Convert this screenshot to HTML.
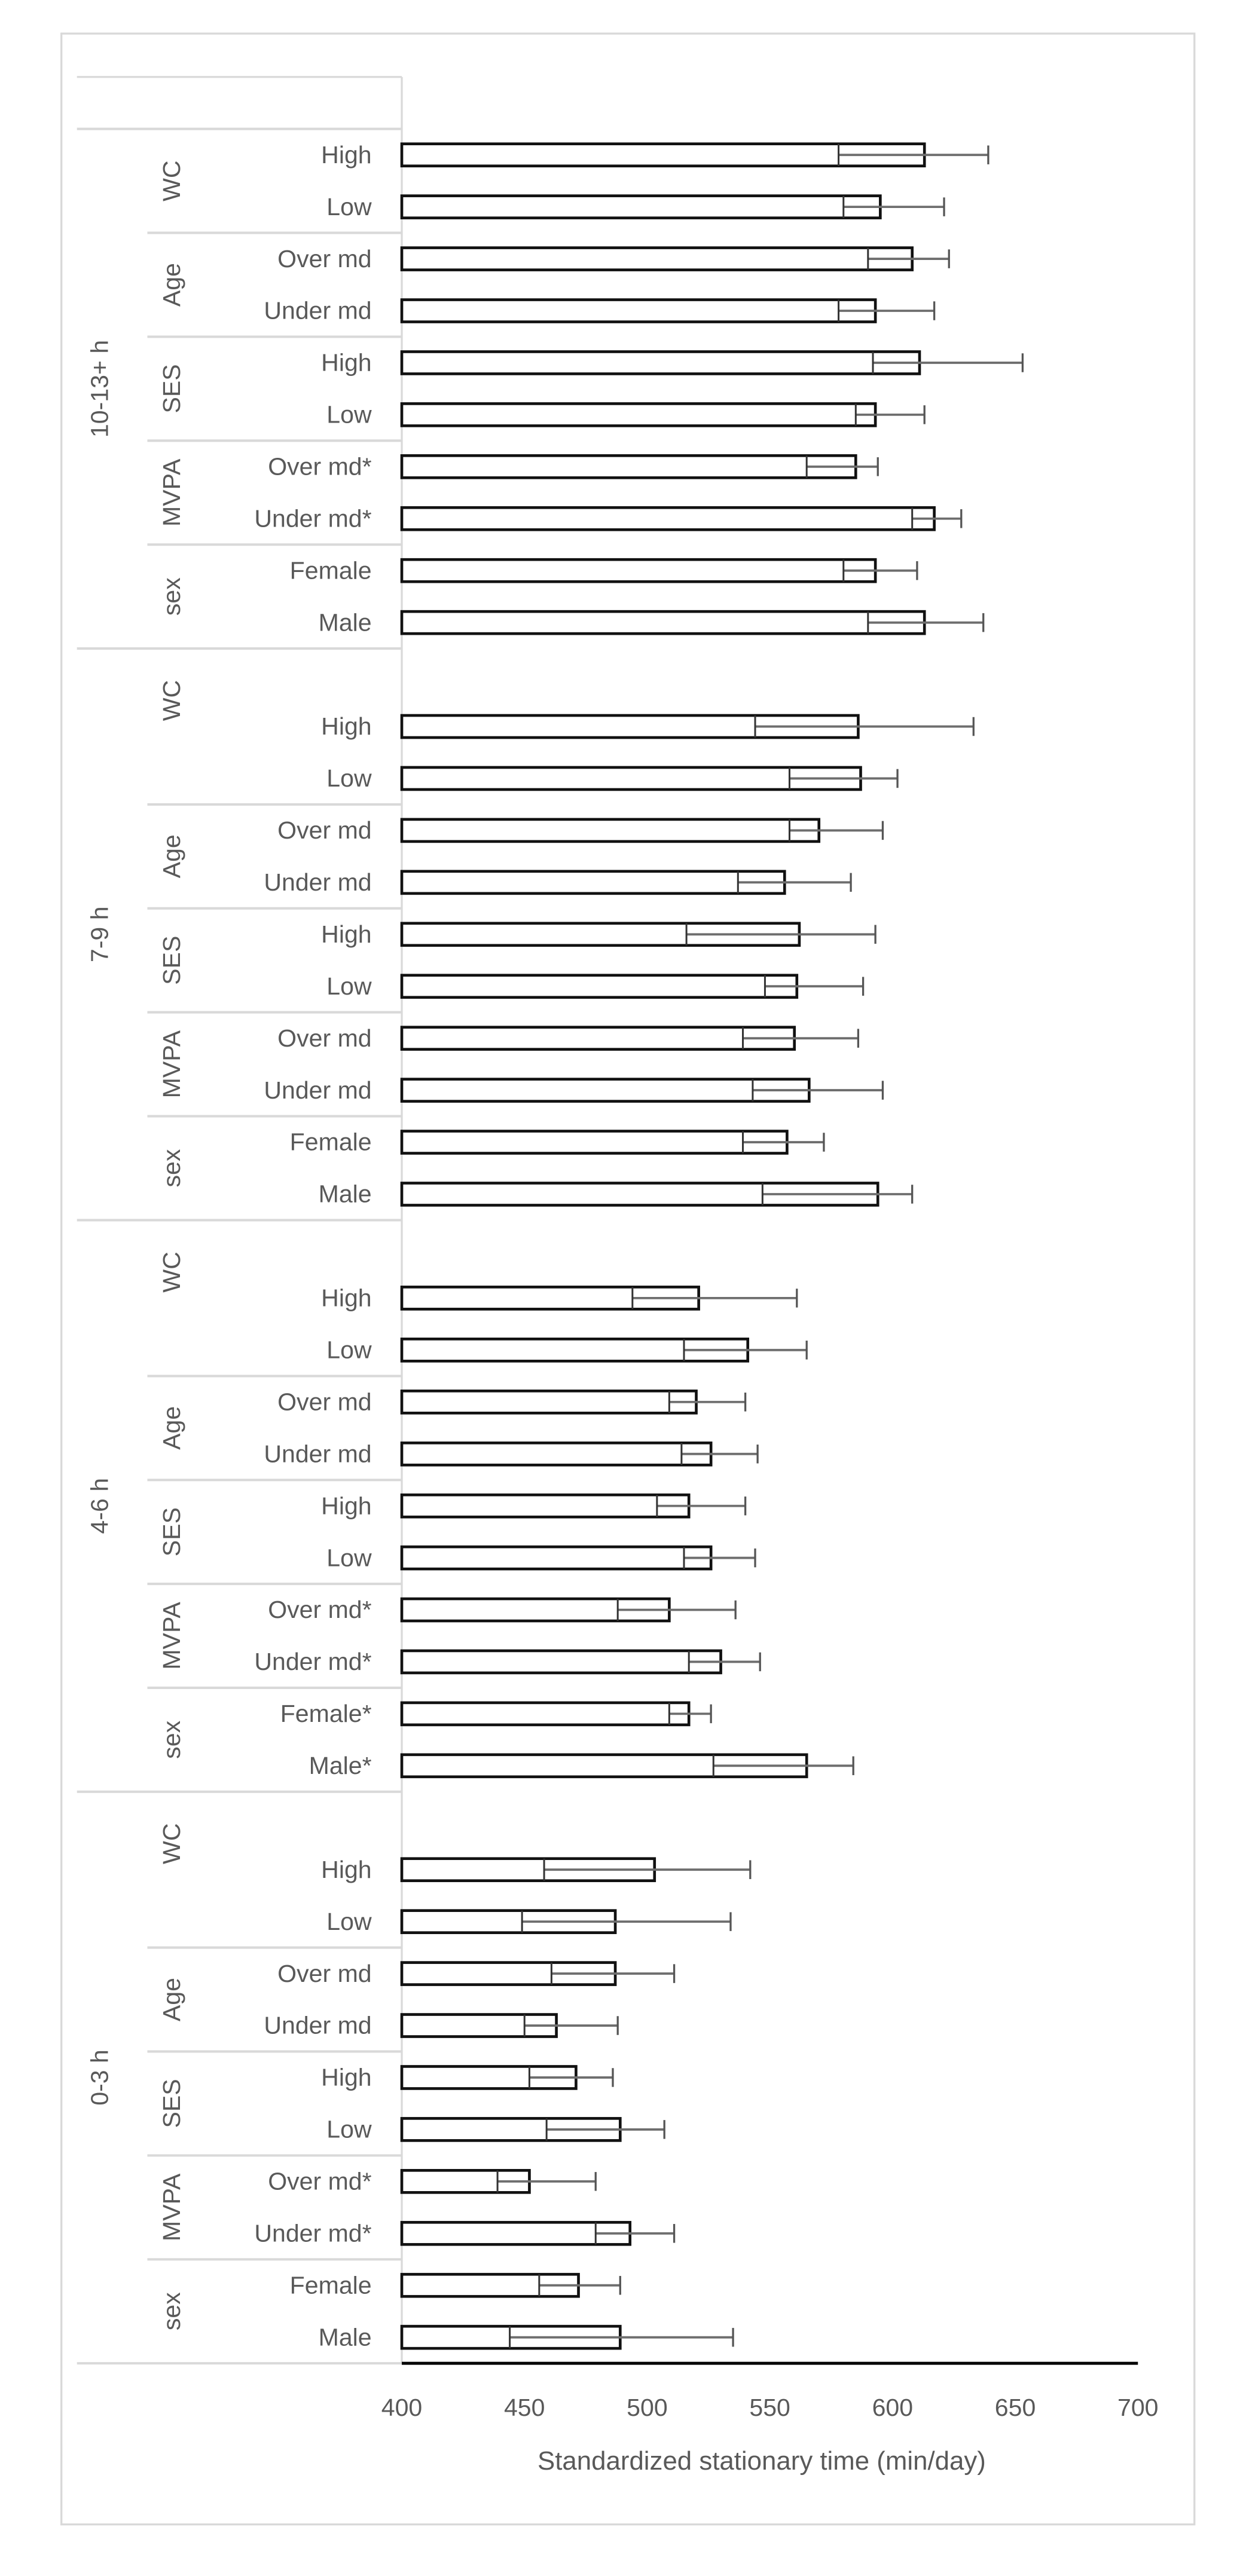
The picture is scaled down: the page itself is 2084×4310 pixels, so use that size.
<!DOCTYPE html>
<html><head><meta charset="utf-8"><title>Standardized stationary time chart</title>
<style>
html,body{margin:0;padding:0;background:#fff;}
svg{display:block;}
text{font-family:"Liberation Sans Narrow","Liberation Sans",sans-serif;fill:#595959;}
</style></head>
<body>
<svg id="chart" width="2084" height="4310" viewBox="0 0 761 1573" preserveAspectRatio="none" xmlns="http://www.w3.org/2000/svg">
<rect x="37.5" y="20.5" width="692" height="1521" fill="#fff" stroke="#d9d9d9" stroke-width="1.2"/>
<g id="grid"></g>
<g id="bars"></g>
<g id="labels"></g>
</svg>
<script>
const groups = ["10-13+ h","7-9 h","4-6 h","0-3 h"];
const subgroups = ["WC","Age","SES","MVPA","sex"];
const catLabels = [
 ["High","Low","Over md","Under md","High","Low","Over md*","Under md*","Female","Male"],
 ["High","Low","Over md","Under md","High","Low","Over md","Under md","Female","Male"],
 ["High","Low","Over md","Under md","High","Low","Over md*","Under md*","Female*","Male*"],
 ["High","Low","Over md","Under md","High","Low","Over md*","Under md*","Female","Male"]
];
const meanG1 = [613,595,608,593,611,593,585,617,593,613];
const lowG1  = [578,580,590,578,592,585,565,608,580,590];
const highG1 = [639,621,623,617,653,613,594,628,610,637];
const meanG2 = [586,587,570,556,562,561,560,566,557,594];
const lowG2  = [544,558,558,537,516,548,539,543,539,547];
const highG2 = [633,602,596,583,593,588,586,596,572,608];
const meanG3 = [521,541,520,526,517,526,509,530,517,565];
const lowG3  = [494,515,509,514,504,515,488,517,509,527];
const highG3 = [561,565,540,545,540,544,536,546,526,584];
const meanG4 = [503,487,487,463,471,489,452,493,472,489];
const lowG4  = [458,449,461,450,452,459,439,479,456,444];
const highG4 = [542,534,511,488,486,507,479,511,489,535];
const xTicks = [400,450,500,550,600,650,700];
const axisTitle = "Standardized stationary time (min/day)";

const means=[meanG1,meanG2,meanG3,meanG4], lows=[lowG1,lowG2,lowG3,lowG4], highs=[highG1,highG2,highG3,highG4];
const NS="http://www.w3.org/2000/svg";
const X0=245.4, X1=695, VMIN=400, VMAX=700;
const TOP=47, SLOT=31.73;
function xs(v){return X0+(v-VMIN)*(X1-X0)/(VMAX-VMIN);}
function slotTop(i){return TOP+i*SLOT;}
function mk(tag,attrs,parent){const e=document.createElementNS(NS,tag);for(const k in attrs)e.setAttribute(k,attrs[k]);parent.appendChild(e);return e;}
const grid=document.getElementById('grid'), bars=document.getElementById('bars'), labels=document.getElementById('labels');
const GC="#d9d9d9";
let l;
l=mk('line',{x1:47,x2:X0,y1:TOP,y2:TOP,stroke:GC,'stroke-width':1.2},grid);


l=mk('line',{x1:X0,x2:X0,y1:TOP,y2:slotTop(44),stroke:GC,'stroke-width':1.2},grid);


for(let g=0;g<groups.length;g++){
  const gTop = g===0 ? slotTop(1) : slotTop(11*g);
  l=mk('line',{x1:47,x2:X0,y1:gTop,y2:gTop,stroke:GC,'stroke-width':1.5},grid);
  
  
  const gBot = slotTop(11*(g+1));
  let t=mk('text',{x:0,y:0,'font-size':15,'text-anchor':'middle',transform:`translate(66,${(gTop+gBot)/2}) rotate(-90)`},labels);
  t.textContent=groups[g];
  
  
  for(let s=0;s<subgroups.length;s++){
    const sTop = s===0 ? gTop : slotTop(11*g+1+2*s);
    const sBot = slotTop(11*g+1+2*(s+1));
    if(s>0){
      l=mk('line',{x1:90,x2:X0,y1:sTop,y2:sTop,stroke:GC,'stroke-width':1.5},grid);
      
      
    }
    const cy = (s===0 && g>0) ? slotTop(11*g+1) : (sTop+sBot)/2;
    t=mk('text',{x:0,y:0,'font-size':15,'text-anchor':'middle',transform:`translate(110,${cy}) rotate(-90)`},labels);
    t.textContent=subgroups[s];
    
    
  }
  for(let k=0;k<10;k++){
    const cy=slotTop(11*g+1+k)+SLOT/2;
    t=mk('text',{x:227,y:cy+5,'font-size':15,'text-anchor':'end'},labels);
    t.textContent=catLabels[g][k];
    
    
    const m=means[g][k], lo=lows[g][k], hi=highs[g][k];
    const bh=13.5;
    const r=mk('rect',{x:xs(VMIN),y:cy-bh/2,width:xs(m)-xs(VMIN),height:bh,fill:'#fff',stroke:'#111','stroke-width':1.7},bars);
    
    
    const e=mk('line',{x1:xs(lo),x2:xs(hi),y1:cy,y2:cy,stroke:'#6e6e6e','stroke-width':1.4},bars);
    
    
    const c1=mk('line',{x1:xs(lo),x2:xs(lo),y1:cy-bh/2,y2:cy+bh/2,stroke:'#333','stroke-width':1.1},bars);
    
    
    const c2=mk('line',{x1:xs(hi),x2:xs(hi),y1:cy-bh/2+1,y2:cy+bh/2-1,stroke:'#555','stroke-width':1.2},bars);
    
    
  }
}
const bottom=slotTop(44);
l=mk('line',{x1:47,x2:X0,y1:bottom,y2:bottom,stroke:GC,'stroke-width':1.5},grid);


l=mk('line',{x1:X0,x2:X1,y1:bottom,y2:bottom,stroke:'#000','stroke-width':1.8},grid);


for(const v of xTicks){
  const t=mk('text',{x:xs(v),y:bottom+32,'font-size':15,'text-anchor':'middle'},labels);
  t.textContent=String(v);
  
  
}
const tt=mk('text',{x:(X0+X1)/2-5,y:bottom+65,'font-size':16,'text-anchor':'middle'},labels);
tt.textContent=axisTitle;


</script>
</body></html>
